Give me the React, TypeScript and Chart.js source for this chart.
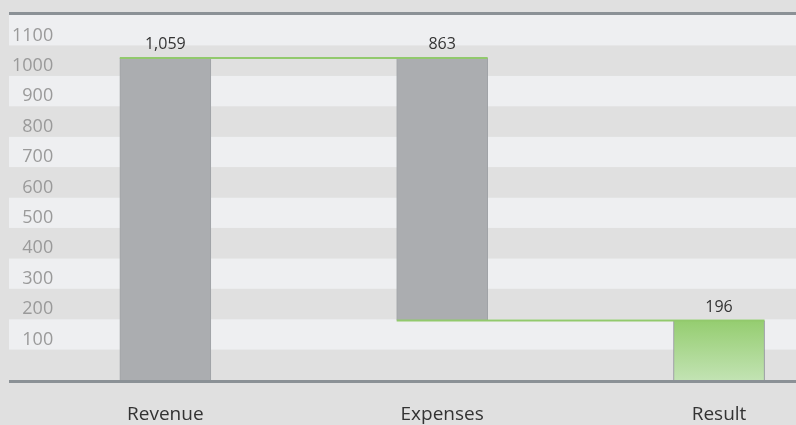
import { useEffect, useRef } from 'react';
import { Chart, registerables } from 'chart.js';

Chart.register(...registerables);

// ---- data ----
const categories = ['Revenue', 'Expenses', 'Result'];
const positions = [0, 1, 2];
const barLows = [0, 196, 0];
const barHighs = [1059, 1059, 196];
const valueLabels = ['1,059', '863', '196'];
const yTicks = [100, 200, 300, 400, 500, 600, 700, 800, 900, 1000, 1100];
const yMin = 0;
const yMax = 1200;
const yStep = 100;

const FONT = "'Open Sans', 'DejaVu Sans', sans-serif";

const decorPlugin = {
  id: 'decor',
  beforeDraw(chart: any) {
    const { ctx, chartArea, scales } = chart;
    const y = scales.y;
    ctx.save();
    ctx.fillStyle = '#e0e0e0';
    ctx.fillRect(0, 0, chart.width, chart.height);
    for (let v = yMin, i = 0; v < yMax; v += yStep, i++) {
      const top = y.getPixelForValue(v + yStep);
      const bot = y.getPixelForValue(v);
      ctx.fillStyle = i % 2 === 1 ? '#eeeff1' : '#e0e0e0';
      ctx.fillRect(chartArea.left, top, chartArea.right - chartArea.left, bot - top);
    }
    ctx.restore();
  },
  afterDatasetsDraw(chart: any) {
    const { ctx, chartArea, scales } = chart;
    const y = scales.y;
    const bars = chart.getDatasetMeta(0).data;
    ctx.save();
    // axis lines
    ctx.fillStyle = '#8b9196';
    const topPx = y.getPixelForValue(yMax);
    const botPx = y.getPixelForValue(yMin);
    ctx.fillRect(chartArea.left, topPx - 3, chartArea.right - chartArea.left, 3);
    ctx.fillRect(chartArea.left, botPx, chartArea.right - chartArea.left, 3);
    // connectors
    ctx.strokeStyle = '#92c96d';
    ctx.lineWidth = 2;
    const edge = (b: any, side: number) => b.x + (side * b.width) / 2;
    const lines = [
      { v: barHighs[0], from: bars[0], to: bars[1] },
      { v: barLows[1], from: bars[1], to: bars[2] },
    ];
    lines.forEach((l) => {
      const py = y.getPixelForValue(l.v);
      ctx.beginPath();
      ctx.moveTo(edge(l.from, -1), py);
      ctx.lineTo(edge(l.to, 1), py);
      ctx.stroke();
    });
    // value labels
    ctx.fillStyle = '#333333';
    ctx.font = `16px ${FONT}`;
    ctx.textAlign = 'center';
    ctx.textBaseline = 'middle';
    bars.forEach((b: any, i: number) => {
      const py = y.getPixelForValue(barHighs[i]);
      ctx.fillText(valueLabels[i], b.x, py - 13);
    });
    ctx.restore();
  },
};

export default function App() {
  const ref = useRef<HTMLCanvasElement>(null);
  useEffect(() => {
    if (!ref.current) return;
    const chart = new Chart(ref.current, {
      type: 'bar',
      data: {
        datasets: [
          {
            data: positions.map((x, i) => ({ x, y: [barLows[i], barHighs[i]] })) as any,
            backgroundColor: (c: any) => {
              if (c.dataIndex !== 2) return '#abadb0';
              const ch = c.chart;
              const ys = ch.scales.y;
              if (!ys || !ch.chartArea) return '#a8d68a';
              const g = ch.ctx.createLinearGradient(0, ys.getPixelForValue(barHighs[2]), 0, ys.getPixelForValue(barLows[2]));
              g.addColorStop(0, '#95cd70');
              g.addColorStop(1, '#c2e3b3');
              return g;
            },
            borderColor: (c: any) => (c.dataIndex === 2 ? '#8c9196' : '#a0a3a7'),
            borderWidth: { left: 1, right: 1, top: 0, bottom: 0 },
            borderSkipped: false,
            barThickness: 91,
          },
        ],
      },
      options: {
        responsive: false,
        animation: false,
        devicePixelRatio: 1,
        layout: { padding: { left: 3, right: 0, top: 15, bottom: 0 } },
        plugins: { legend: { display: false }, tooltip: { enabled: false } },
        scales: {
          x: {
            type: 'linear',
            offset: false,
            min: -0.5646,
            max: 2.278,
            grid: { display: false, drawTicks: false, offset: false },
            border: { display: false },
            afterBuildTicks: (s: any) => {
              s.ticks = positions.map((v) => ({ value: v }));
            },
            afterFit: (s: any) => {
              s.height = 45;
            },
            ticks: {
              padding: 23,
              color: '#333333',
              font: { family: FONT, size: 19 },
              autoSkip: false,
              maxRotation: 0,
              callback: (v: any) => categories[v as number] ?? '',
            },
          },
          y: {
            type: 'linear',
            min: yMin,
            max: yMax,
            grid: { display: false, drawTicks: false },
            border: { display: false },
            ticks: {
              stepSize: yStep,
              mirror: true,
              crossAlign: 'far',
              padding: 3,
              labelOffset: -10,
              color: '#9a9a9a',
              font: { family: FONT, size: 18 },
              callback: (v: any) => (yTicks.includes(v as number) ? String(v) : ''),
            },
          },
        },
      },
      plugins: [decorPlugin],
    });
    return () => chart.destroy();
  }, []);
  return (
    <div style={{ position: 'absolute', left: 0, top: 0, width: 796, height: 425 }}>
      <canvas ref={ref} width={796} height={425} />
    </div>
  );
}
